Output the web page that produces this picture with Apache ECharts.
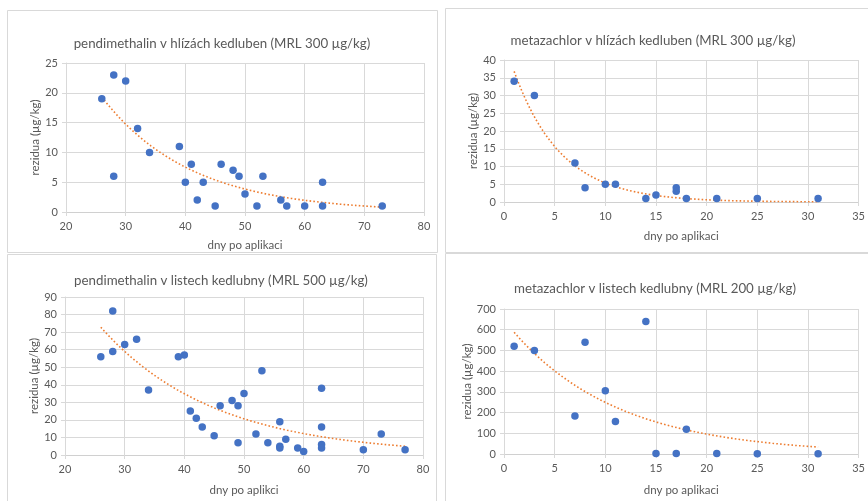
<!DOCTYPE html>
<html><head><meta charset="utf-8">
<script src="https://cdn.jsdelivr.net/npm/echarts@6/dist/echarts.min.js"></script>
<style>html,body{margin:0;padding:0;background:#fff}#c{width:868px;height:501px}</style>
</head><body><div id="c"></div>
<script>
// --- data ---
const titles = [
  'pendimethalin v hlízách kedluben (MRL 300 µg/kg)',
  'metazachlor v hlízách kedluben (MRL 300 µg/kg)',
  'pendimethalin v listech kedlubny (MRL 500 µg/kg)',
  'metazachlor v listech kedlubny (MRL 200 µg/kg)'
];
const xNames = ['dny po aplikaci','dny po aplikaci','dny po aplikci','dny po aplikaci'];
const yName = 'rezidua (µg/kg)';

const p1X = [26,28,28,30,32,34,39,40,41,42,43,45,46,48,49,50,52,53,56,57,60,63,63,73];
const p1Y = [19,23,6,22,14,10,11,5,8,2,5,1,8,7,6,3,1,6,2,1,1,5,1,1];

const p2X = [1,3,7,8,10,11,14,15,17,17,18,21,25,31];
const p2Y = [34,30,11,4,5,5,1,2,4,3,1,1,1,1];

const p3X = [26,28,28,30,32,34,39,40,41,42,43,45,46,48,49,49,50,52,53,54,56,56,56,57,59,60,63,63,63,63,70,73,77];
const p3Y = [56,82,59,63,66,37,56,57,25,21,16,11,28,31,28,7,35,12,48,7,19,5,4,9,4,2,38,16,6,4,3,12,3];

const p4X = [1,3,7,8,10,11,14,15,17,18,21,25,31];
const p4Y = [520,500,183,540,305,157,640,3,3,120,2,1,1];

// exponential trendlines: [xStart, yStart, xEnd, yEnd]
const p1Trend = [26, 19.3, 73, 0.82];
const p2Trend = [1, 36.8, 31, 0.06];
const p3Trend = [26, 72.8, 77, 5.0];
const p4Trend = [1, 587.6, 31, 33.7];

// axis ranges / ticks
const xAxes = [[20,80,10],[0,35,5],[20,80,10],[0,35,5]];
const yAxes = [[0,25,5],[0,40,5],[0,90,10],[0,700,100]];

// --- layout ---
const grids = [
  {left:66, top:63, width:358, height:149},
  {left:504, top:60, width:360, height:142},
  {left:65, top:297, width:358, height:158},
  {left:504, top:309, width:359, height:145}
];
const titlePos = [[217,32],[648,29],[216,269],[650,277]];
const xNameGap = [27,28,29,30];
const yNameGap = [22,24,21,29];

const FONT = 'Lato, "Open Sans", sans-serif';
const TXT = '#595959';
const GRIDC = '#d9d9d9';

function zip(xs, ys){ return xs.map((x,i)=>[x, ys[i]]); }
function expCurve(t){
  const [x0,y0,x1,y1] = t, n = 80, out = [];
  for(let i=0;i<=n;i++){
    const x = x0 + (x1-x0)*i/n;
    out.push([x, y0*Math.pow(y1/y0, (x-x0)/(x1-x0))]);
  }
  return out;
}
const pts = [zip(p1X,p1Y), zip(p2X,p2Y), zip(p3X,p3Y), zip(p4X,p4Y)];
const trends = [p1Trend,p2Trend,p3Trend,p4Trend];

const option = {
  backgroundColor:'#fff',
  animation:false,
  textStyle:{fontFamily:FONT},
  graphic:[
    {type:'rect', shape:{x:7.5,y:10.5,width:430,height:242}, style:{fill:'none',stroke:GRIDC,lineWidth:1}},
    {type:'rect', shape:{x:445.5,y:8.5,width:440,height:244}, style:{fill:'none',stroke:GRIDC,lineWidth:1}},
    {type:'rect', shape:{x:7.5,y:254.5,width:429,height:260}, style:{fill:'none',stroke:GRIDC,lineWidth:1}},
    {type:'rect', shape:{x:445.5,y:253.5,width:440,height:260}, style:{fill:'none',stroke:GRIDC,lineWidth:1}}
  ],
  title: titles.map((t,i)=>({
    text:t, left:titlePos[i][0], top:titlePos[i][1], textAlign:'center',
    textStyle:{fontFamily:FONT, fontSize:13.3, fontWeight:'normal', color:TXT}
  })),
  grid: grids.map(g=>Object.assign({containLabel:false}, g)),
  xAxis: xAxes.map((a,i)=>({
    type:'value', gridIndex:i, min:a[0], max:a[1], interval:a[2],
    name:xNames[i], nameLocation:'middle', nameGap:xNameGap[i],
    nameTextStyle:{fontFamily:FONT, fontSize:11.5, color:TXT},
    axisLine:{show:true, onZero:false, lineStyle:{color:'#d0d0d0'}},
    axisTick:{show:true, length:4, lineStyle:{color:GRIDC}},
    axisLabel:{fontFamily:FONT, fontSize:11, color:TXT, margin:9},
    splitLine:{show:true, lineStyle:{color:GRIDC}}
  })),
  yAxis: yAxes.map((a,i)=>({
    type:'value', gridIndex:i, min:a[0], max:a[1], interval:a[2],
    name:yName, nameLocation:'middle', nameGap:yNameGap[i], nameRotate:90,
    nameTextStyle:{fontFamily:FONT, fontSize:11.5, color:TXT},
    axisLine:{show:true, lineStyle:{color:GRIDC}},
    axisTick:{show:true, length:4, lineStyle:{color:GRIDC}},
    axisLabel:{fontFamily:FONT, fontSize:11, color:TXT, margin:8},
    splitLine:{show:true, lineStyle:{color:GRIDC}}
  })),
  series: [].concat(
    trends.map((t,i)=>({
      type:'line', xAxisIndex:i, yAxisIndex:i, data:expCurve(t), showSymbol:false, symbol:'none',
      lineStyle:{color:'#ED7D31', width:1.6, type:[1.6,2.2]}, z:3, silent:true
    })),
    pts.map((d,i)=>({
      type:'scatter', xAxisIndex:i, yAxisIndex:i, data:d, symbolSize:7.5,
      itemStyle:{color:'#4472C4', opacity:1}, z:4
    }))
  )
};
echarts.init(document.getElementById('c'), null, {renderer:'canvas'}).setOption(option);
</script></body></html>
